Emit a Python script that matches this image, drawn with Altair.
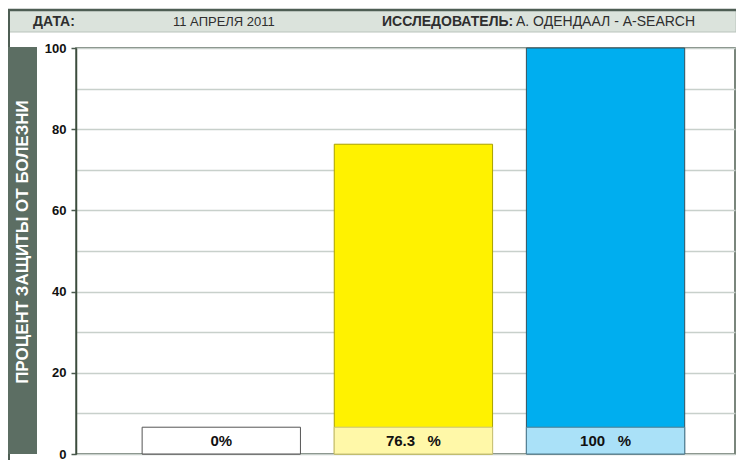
import altair as alt
import pandas as pd

categories = ["Контроль", "Вариант 1", "Вариант 2"]
values = [0, 76.3, 100]
bar_labels = ["0%", "76.3\u00a0\u00a0 %", "100\u00a0\u00a0 %"]
label_box_top = [6.6, 6.6, 6.6]
bar_fill = ["#ffffff", "#fff200", "#00aeef"]
bar_stroke = ["#888888", "#a8a000", "#34505c"]
box_fill = ["#ffffff", "#fff8a8", "#aae1f8"]
box_stroke = ["#555555", "#c9c27a", "#4f7d90"]
y_ticks = list(range(0, 101, 10))

header_date_label = "ДАТА:"
header_date = "11 АПРЕЛЯ 2011"
header_res_label = "ИССЛЕДОВАТЕЛЬ:"
header_res = "А. ОДЕНДААЛ - A-SEARCH"
y_title = "ПРОЦЕНТ ЗАЩИТЫ ОТ БОЛЕЗНИ"

FONT = "Liberation Sans Narrow, Arial Narrow, Liberation Sans, sans-serif"

W, H = 659, 406
PAD_L, PAD_T, PAD_R, PAD_B = 68, 40, 1, 6

df = pd.DataFrame({
    "cat": categories,
    "value": values,
    "label": bar_labels,
    "box": label_box_top,
    "zero": [0, 0, 0],
})

xscale = alt.Scale(domain=categories, paddingInner=0.176, paddingOuter=0.303, align=0.568)
yscale = alt.Scale(domain=[0, 100], nice=False)

base = alt.Chart(df)

bars = base.mark_bar(strokeWidth=1).encode(
    x=alt.X("cat:N", scale=xscale, axis=None, sort=categories),
    y=alt.Y("value:Q", scale=yscale, axis=alt.Axis(
        values=y_ticks,
        title=None,
        grid=True,
        gridColor="#c8d0cb",
        gridWidth=1.5,
        labelExpr="datum.value % 20 == 0 ? datum.label : ''",
        labelFont=FONT,
        labelFontWeight="bold",
        labelFontSize=13,
        labelColor="#111111",
        labelPadding=5,
        tickSize=5,
        tickWidth=1.5,
        tickColor={"condition": {"test": "datum.value % 20 == 0", "value": "#4a5a4e"}, "value": "transparent"},
        domainColor="#3c4c3c",
        domainWidth=1.5,
    )),
    y2="zero:Q",
    fill=alt.Fill("cat:N", scale=alt.Scale(domain=categories, range=bar_fill), legend=None),
    stroke=alt.Stroke("cat:N", scale=alt.Scale(domain=categories, range=bar_stroke), legend=None),
)

boxes = base.mark_bar(strokeWidth=1).encode(
    x=alt.X("cat:N", scale=xscale, sort=categories),
    y=alt.Y("box:Q", scale=yscale),
    y2="zero:Q",
    fill=alt.Fill("cat:N", scale=alt.Scale(domain=categories, range=box_fill), legend=None),
    stroke=alt.Stroke("cat:N", scale=alt.Scale(domain=categories, range=box_stroke), legend=None),
)

texts = base.transform_calculate(mid="datum.box / 2").mark_text(
    font=FONT, fontWeight="bold", fontSize=15, color="#111111", baseline="middle"
).encode(
    x=alt.X("cat:N", scale=xscale, sort=categories, bandPosition=0.5),
    y=alt.Y("mid:Q", scale=yscale),
    text="label:N",
)

one = pd.DataFrame({"k": [0]})
deco = alt.Chart(one)

HY = 2 - PAD_T  # header top in plot coordinates
header_bg = deco.mark_rect(fill="#dbe3dc", stroke="#b9c3bc", strokeWidth=1).encode(
    x=alt.value(-PAD_L), x2=alt.value(W + PAD_R), y=alt.value(HY), y2=alt.value(HY + 22)
)
header_top = deco.mark_rule(color="#4e5e54", strokeWidth=2.5).encode(
    x=alt.value(-PAD_L), x2=alt.value(W + PAD_R), y=alt.value(HY)
)
left_line = deco.mark_rule(color="#4e5e54", strokeWidth=2).encode(
    x=alt.value(-PAD_L + 1), y=alt.value(HY), y2=alt.value(H + PAD_B)
)
ytitle_bg = deco.mark_rect(fill="#5c6e63").encode(
    x=alt.value(-PAD_L), x2=alt.value(-PAD_L + 29), y=alt.value(-1), y2=alt.value(H)
)
ytitle_txt = deco.mark_text(
    font=FONT, fontWeight="bold", fontSize=17, color="#ffffff", angle=270,
    align="center", baseline="middle"
).encode(x=alt.value(-PAD_L + 15), y=alt.value(194), text=alt.value(y_title))

def htext(txt, x, bold, size=14):
    return deco.mark_text(
        font=FONT, fontWeight="bold" if bold else "normal", fontSize=size,
        color="#2e2e2e", align="left", baseline="middle"
    ).encode(x=alt.value(x), y=alt.value(HY + 12), text=alt.value(txt))

chart = alt.layer(
    header_bg, header_top, left_line, ytitle_bg, ytitle_txt,
    bars, boxes, texts,
    htext(header_date_label, -43, True),
    htext(header_date, 97, False, 13),
    htext(header_res_label, 306, True),
    htext(header_res, 440, False),
).resolve_scale(
    fill="independent", stroke="independent"
).properties(
    width=W,
    height=H,
    autosize=alt.AutoSizeParams(type="none"),
    padding={"left": PAD_L, "top": PAD_T, "right": PAD_R, "bottom": PAD_B},
).configure_view(
    stroke="#4f5f52", strokeWidth=1.5
)

chart.save("out.html", embed_options={"renderer": "svg", "actions": False})
